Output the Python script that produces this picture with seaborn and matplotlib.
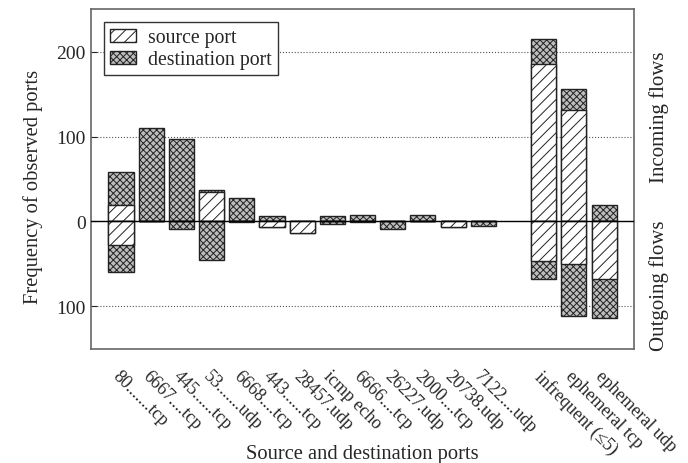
import numpy as np
import pandas as pd
import matplotlib
matplotlib.use('Agg')
import matplotlib.pyplot as plt
from matplotlib.patches import Patch
from matplotlib.ticker import FuncFormatter
import seaborn as sns

# port categories and observed counts (incoming above zero, outgoing below)
labels = ['80.......tcp', '6667....tcp', '445......tcp', '53.......udp', '6668....tcp',
          '443......tcp', '28457.udp', 'icmp echo', '6666....tcp', '26227.udp',
          '2000....tcp', '20738.udp', '7122....udp', 'infrequent (\u22645)',
          'ephemeral tcp', 'ephemeral udp']
positions = [0, 1, 2, 3, 4, 5, 6, 7, 8, 9, 10, 11, 12, 14, 15, 16]
in_src = [20, 0, 0, 35, 0, 0, 1, 0, 0, 0, 0, 1, 0, 186, 131, 0]
in_dst = [38, 110, 97, 2, 28, 7, 0, 7, 8, 1, 8, 0, 1, 29, 25, 20]
out_src = [28, 0, 0, 0, 0, 7, 13, 0, 0, 0, 0, 6, 0, 46, 50, 68]
out_dst = [31, 0, 9, 45, 1, 0, 0, 3, 1, 9, 0, 0, 5, 22, 61, 46]

sns.set_style('white')
plt.rcParams['font.family'] = ['Liberation Serif', 'DejaVu Serif']
plt.rcParams['hatch.linewidth'] = 0.7

df = pd.DataFrame({'pos': positions, 'in_src': in_src, 'in_dst': in_dst,
                   'out_src': out_src, 'out_dst': out_dst})
df['in_tot'] = df['in_src'] + df['in_dst']
df['out_tot'] = -(df['out_src'] + df['out_dst'])
df['out_src_neg'] = -df['out_src']

fig = plt.figure(figsize=(6.88, 4.64), dpi=100)
ax = fig.add_axes([0.132, 0.246, 0.79, 0.732])

edge = '#222222'
dst_face = '#bdbdbd'
dst_style = dict(color=dst_face, edgecolor=edge, hatch='xxxxx', linewidth=1.0)
src_style = dict(color='white', edgecolor=edge, hatch='///', linewidth=1.0)

# outer (destination) layer first, source drawn over it from zero
for col, style in [('in_tot', dst_style), ('in_src', src_style),
                   ('out_tot', dst_style), ('out_src_neg', src_style)]:
    sns.barplot(data=df, x='pos', y=col, native_scale=True, width=0.83,
                errorbar=None, saturation=1, ax=ax, **style)

ax.axhline(0, color='black', linewidth=1.0, zorder=3)
ax.set_xlim(-1, 17)
ax.set_ylim(-150, 250)
ax.set_yticks([-100, 0, 100, 200])
ax.yaxis.set_major_formatter(FuncFormatter(lambda v, p: f'{abs(int(v))}'))
ax.yaxis.grid(True, linestyle=':', color='#555555', linewidth=0.8)
ax.set_axisbelow(True)
ax.tick_params(axis='y', direction='in', length=4, labelsize=14, left=True)
ax.set_xticks(positions)
ax.set_xticklabels(labels, rotation=-45, ha='left', va='top',
                   rotation_mode='anchor', fontsize=13)
ax.tick_params(axis='x', length=0, pad=13)
for s in ax.spines.values():
    s.set_color('#666666')
    s.set_linewidth(1.2)

ax.set_xlabel('Source and destination ports', fontsize=14.8)
ax.set_ylabel('Frequency of observed ports', fontsize=14.8)
ax.xaxis.set_label_coords(0.5, -0.28)
ax.yaxis.set_label_coords(-0.088, 0.48)

ax.text(1.045, 124, 'Incoming flows', transform=ax.get_yaxis_transform(),
        rotation=90, ha='center', va='center', fontsize=15)
ax.text(1.045, -75, 'Outgoing flows', transform=ax.get_yaxis_transform(),
        rotation=90, ha='center', va='center', fontsize=15)

handles = [Patch(facecolor='white', edgecolor=edge, hatch='///', label='source port'),
           Patch(facecolor=dst_face, edgecolor=edge, hatch='xxxxx', label='destination port')]
leg = ax.legend(handles=handles, loc='upper left', fontsize=14.2, fancybox=False,
                framealpha=1, edgecolor='#333333', handlelength=1.3,
                handletextpad=0.6, borderpad=0.3, labelspacing=0.15,
                bbox_to_anchor=(0.007, 0.99))
leg.get_frame().set_linewidth(1.0)

fig.savefig('out.png', dpi=100)
plt.close(fig)
